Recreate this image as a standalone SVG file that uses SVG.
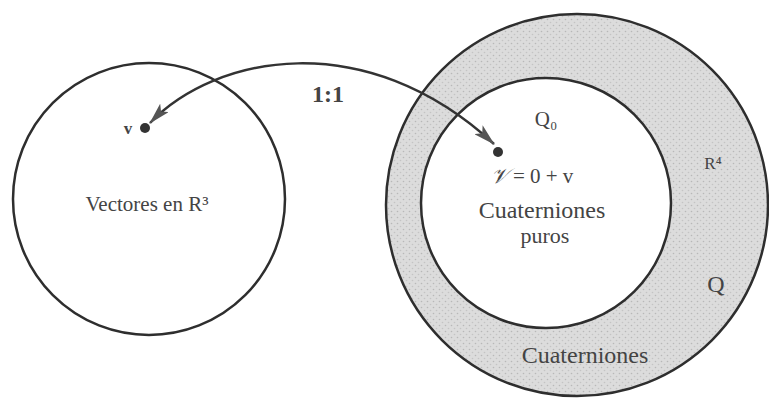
<svg xmlns="http://www.w3.org/2000/svg" width="769" height="405" viewBox="0 0 769 405">
<style>
.ring{fill:none;stroke:#2e2e2e;stroke-width:2.5}
.t{font-family:"Liberation Serif","DejaVu Serif",serif;fill:#444}
.conn{fill:none;stroke:#333;stroke-width:2.5}
</style>
<defs>
<pattern id="stip" width="6" height="6" patternUnits="userSpaceOnUse">
<rect width="6" height="6" fill="#dcdcdc"/>
<circle cx="1.5" cy="1.5" r="0.8" fill="#b8b8b8"/>
<circle cx="4.5" cy="4.5" r="0.8" fill="#c4c4c4"/>
</pattern>
<marker id="ah" viewBox="0 0 22 12" refX="21" refY="6" markerWidth="22" markerHeight="12" markerUnits="userSpaceOnUse" orient="auto-start-reverse">
<path d="M0,0 L22,6 L0,12 L5,6 Z" fill="#555"/>
</marker>
</defs>
<rect width="769" height="405" fill="#fff"/>
<g id="vectores">
<circle class="ring" cx="149" cy="199" r="136"/>
<text class="t" x="147" y="211" font-size="21" text-anchor="middle">Vectores en R³</text>
<circle cx="145" cy="128" r="5" fill="#333"/>
<text class="t" x="128" y="134" font-size="17" font-weight="bold" text-anchor="middle">v</text>
</g>
<g id="cuaterniones">
<circle cx="577" cy="205" r="191" fill="url(#stip)" stroke="#2e2e2e" stroke-width="2.5"/>
<text class="t" x="713" y="169" font-size="17" text-anchor="middle">R⁴</text>
<text class="t" x="716" y="292" font-size="24" text-anchor="middle">Q</text>
<text class="t" x="585" y="363" font-size="24" text-anchor="middle">Cuaterniones</text>
</g>
<g id="puros">
<circle cx="546" cy="203" r="125" fill="#fff" stroke="#2e2e2e" stroke-width="2.5"/>
<text class="t" x="546" y="126" font-size="21" text-anchor="middle">Q₀</text>
<circle cx="498" cy="152" r="5" fill="#333"/>
<text class="t" x="532" y="183" font-size="21" text-anchor="middle"><tspan font-style="italic">𝒱</tspan> = 0 + v</text>
<text class="t" x="542" y="218" font-size="24" text-anchor="middle">Cuaterniones</text>
<text class="t" x="545" y="243" font-size="22" text-anchor="middle">puros</text>
</g>
<g id="connectors">
<path class="conn" d="M150,123 C215,55 365,25 494,144" marker-start="url(#ah)" marker-end="url(#ah)"/>
<text class="t" x="328" y="102" font-size="24" font-weight="bold" text-anchor="middle">1:1</text>
</g>
</svg>
